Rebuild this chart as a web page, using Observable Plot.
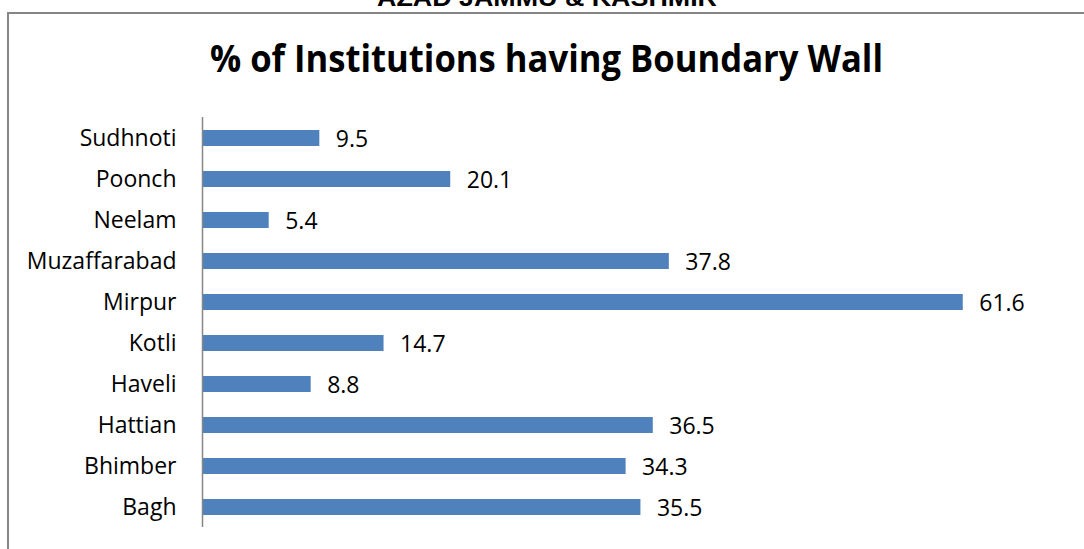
<!DOCTYPE html>
<html>
<head>
<meta charset="utf-8">
<script src="https://cdn.jsdelivr.net/npm/d3@7"></script>
<script src="https://cdn.jsdelivr.net/npm/@observablehq/plot@0.6"></script>
<style>
  html, body { margin: 0; padding: 0; background: #fff; width: 1084px; height: 549px; overflow: hidden; }
  #frame { position: absolute; left: 7px; top: 12px; width: 1100px; height: 600px;
           border-left: 2px solid #868686; border-top: 2px solid #868686; box-sizing: border-box; }
  #head { position: absolute; left: 0; top: 0; }
  #chart { position: absolute; left: 0; top: 100px; line-height: 0; }
  #chart svg { display: block; }
</style>
</head>
<body>
<div id="frame"></div>
<svg id="head" width="1084" height="100">
  <text x="547" y="6" text-anchor="middle" font-family="Liberation Sans, Arial, sans-serif" font-weight="bold"
        font-size="24" textLength="340" lengthAdjust="spacingAndGlyphs" fill="#000">AZAD JAMMU &amp; KASHMIR</text>
  <text x="546.5" y="72" text-anchor="middle" font-family="Open Sans, sans-serif" font-weight="bold"
        font-size="37" textLength="673" lengthAdjust="spacingAndGlyphs" fill="#000">% of Institutions having Boundary Wall</text>
</svg>
<div id="chart"></div>
<script>
const districts = ["Sudhnoti", "Poonch", "Neelam", "Muzaffarabad", "Mirpur", "Kotli", "Haveli", "Hattian", "Bhimber", "Bagh"];
const values = [9.5, 20.1, 5.4, 37.8, 61.6, 14.7, 8.8, 36.5, 34.3, 35.5];

const data = districts.map((d, i) => ({district: d, value: values[i]}));

const plot = Plot.plot({
  width: 1084,
  height: 449,
  marginTop: 17,
  marginBottom: 22,
  marginLeft: 202,
  marginRight: 17.5,
  style: {fontFamily: "Open Sans, sans-serif", fontSize: "23px", color: "#000", background: "transparent"},
  x: {domain: [0, 70], axis: null},
  y: {domain: districts, paddingInner: 0.61, paddingOuter: 0.305, label: null, tickSize: 0, tickPadding: 26},
  marks: [
    Plot.barX(data, {x: "value", y: "district", fill: "#4F81BD"}),
    Plot.ruleX([0], {stroke: "#868686", strokeWidth: 1.5}),
    Plot.text(data, {x: "value", y: "district", text: d => d.value.toFixed(1), textAnchor: "start", dx: 16, dy: 1, fontSize: 23, fill: "#000"})
  ]
});
document.getElementById("chart").appendChild(plot);
</script>
</body>
</html>
